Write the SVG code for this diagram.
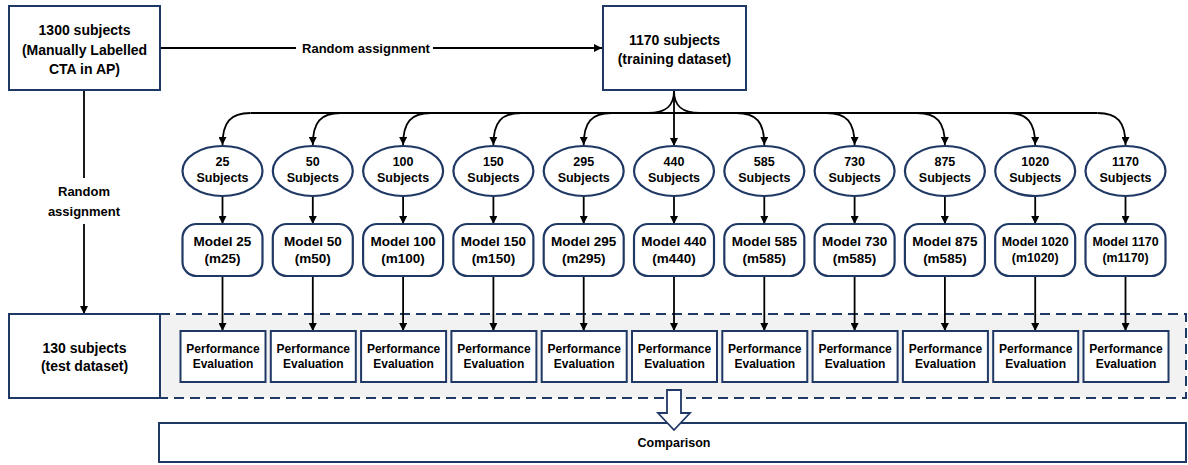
<svg xmlns="http://www.w3.org/2000/svg" width="1188" height="465" viewBox="0 0 1188 465">
<defs>
<marker id="ah" viewBox="0 0 10 10" refX="10" refY="5" markerWidth="8" markerHeight="8" markerUnits="userSpaceOnUse" orient="auto"><path d="M0,0 L10,5 L0,10 z" fill="#000"/></marker>
<style>
text{font-family:"Liberation Sans",Arial,sans-serif;font-weight:bold;fill:#000;text-anchor:middle}
.box{fill:#fff;stroke:#1f3864;stroke-width:2}
.ell{fill:#fff;stroke:#1f3864;stroke-width:2.2}
.c{fill:none;stroke:#000;stroke-width:1.8}
.ca{fill:none;stroke:#000;stroke-width:1.8;marker-end:url(#ah)}
.big{font-size:14px}
.e{font-size:12.5px}
.m{font-size:13.5px}
.ms{font-size:12.4px}
.p{font-size:12px}
</style>
</defs>
<rect x="160" y="314" width="1026" height="84" fill="#f2f2f2" stroke="#1f3864" stroke-width="2" stroke-dasharray="10,6"/>
<g id="connectors">
<path class="c" d="M160,48 H296"/>
<path class="ca" d="M433,48 H602"/>
<path class="c" d="M84,90 V178"/>
<path class="ca" d="M84,224 V314"/>
<path class="c" d="M250.5,113 H1097.5"/>
<path class="c" d="M674,91 C674,106 666,113 648,113"/>
<path class="c" d="M674,91 C674,106 682,113 700,113"/>
<path class="ca" d="M674,91 V146"/>
<path class="ca" d="M250.5,113 C230.5,113 222.5,122 222.5,145"/>
<path class="ca" d="M340.8,113 C320.8,113 312.8,122 312.8,145"/>
<path class="ca" d="M431.1,113 C411.1,113 403.1,122 403.1,145"/>
<path class="ca" d="M521.4,113 C501.4,113 493.4,122 493.4,145"/>
<path class="ca" d="M611.7,113 C591.7,113 583.7,122 583.7,145"/>
<path class="ca" d="M736.3,113 C756.3,113 764.3,122 764.3,145"/>
<path class="ca" d="M826.6,113 C846.6,113 854.6,122 854.6,145"/>
<path class="ca" d="M916.9,113 C936.9,113 944.9,122 944.9,145"/>
<path class="ca" d="M1007.2,113 C1027.2,113 1035.2,122 1035.2,145"/>
<path class="ca" d="M1097.5,113 C1117.5,113 1125.5,122 1125.5,145"/>
<path class="ca" d="M222.5,196 V224"/><path class="ca" d="M312.8,196 V224"/><path class="ca" d="M403.1,196 V224"/><path class="ca" d="M493.4,196 V224"/><path class="ca" d="M583.7,196 V224"/><path class="ca" d="M674,196 V224"/><path class="ca" d="M764.3,196 V224"/><path class="ca" d="M854.6,196 V224"/><path class="ca" d="M944.9,196 V224"/><path class="ca" d="M1035.2,196 V224"/><path class="ca" d="M1125.5,196 V224"/>
<path class="ca" d="M222.5,276 V331"/><path class="ca" d="M312.8,276 V331"/><path class="ca" d="M403.1,276 V331"/><path class="ca" d="M493.4,276 V331"/><path class="ca" d="M583.7,276 V331"/><path class="ca" d="M674,276 V331"/><path class="ca" d="M764.3,276 V331"/><path class="ca" d="M854.6,276 V331"/><path class="ca" d="M944.9,276 V331"/><path class="ca" d="M1035.2,276 V331"/><path class="ca" d="M1125.5,276 V331"/>
<text x="366" y="52.5" style="font-size:13px">Random assignment</text>
<text x="84" y="196" style="font-size:13px">Random</text>
<text x="84" y="216" style="font-size:13px">assignment</text>
</g>
<g id="n-all"><rect class="box" x="9" y="6" width="151" height="84"/><text class="big" x="84.5" y="35">1300 subjects</text><text class="big" x="84.5" y="55">(Manually Labelled</text><text class="big" x="84.5" y="74">CTA in AP)</text></g>
<g id="n-train"><rect class="box" x="603" y="6" width="143" height="84"/><text class="big" x="674.5" y="45">1170 subjects</text><text class="big" x="674.5" y="64">(training dataset)</text></g>
<g id="n-test"><rect class="box" x="9" y="314" width="151" height="84"/><text class="big" x="84.5" y="353">130 subjects</text><text class="big" x="84.5" y="371">(test dataset)</text></g>
<g id="s0"><ellipse class="ell" cx="222.5" cy="171" rx="40" ry="25"/><text class="e" x="222.5" y="166">25</text><text class="e" x="222.5" y="182">Subjects</text></g>
<g id="s1"><ellipse class="ell" cx="312.8" cy="171" rx="40" ry="25"/><text class="e" x="312.8" y="166">50</text><text class="e" x="312.8" y="182">Subjects</text></g>
<g id="s2"><ellipse class="ell" cx="403.1" cy="171" rx="40" ry="25"/><text class="e" x="403.1" y="166">100</text><text class="e" x="403.1" y="182">Subjects</text></g>
<g id="s3"><ellipse class="ell" cx="493.4" cy="171" rx="40" ry="25"/><text class="e" x="493.4" y="166">150</text><text class="e" x="493.4" y="182">Subjects</text></g>
<g id="s4"><ellipse class="ell" cx="583.7" cy="171" rx="40" ry="25"/><text class="e" x="583.7" y="166">295</text><text class="e" x="583.7" y="182">Subjects</text></g>
<g id="s5"><ellipse class="ell" cx="674" cy="171" rx="40" ry="25"/><text class="e" x="674" y="166">440</text><text class="e" x="674" y="182">Subjects</text></g>
<g id="s6"><ellipse class="ell" cx="764.3" cy="171" rx="40" ry="25"/><text class="e" x="764.3" y="166">585</text><text class="e" x="764.3" y="182">Subjects</text></g>
<g id="s7"><ellipse class="ell" cx="854.6" cy="171" rx="40" ry="25"/><text class="e" x="854.6" y="166">730</text><text class="e" x="854.6" y="182">Subjects</text></g>
<g id="s8"><ellipse class="ell" cx="944.9" cy="171" rx="40" ry="25"/><text class="e" x="944.9" y="166">875</text><text class="e" x="944.9" y="182">Subjects</text></g>
<g id="s9"><ellipse class="ell" cx="1035.2" cy="171" rx="40" ry="25"/><text class="e" x="1035.2" y="166">1020</text><text class="e" x="1035.2" y="182">Subjects</text></g>
<g id="s10"><ellipse class="ell" cx="1125.5" cy="171" rx="40" ry="25"/><text class="e" x="1125.5" y="166">1170</text><text class="e" x="1125.5" y="182">Subjects</text></g>
<g id="m0"><rect class="ell" x="182.5" y="224" width="80" height="52" rx="14"/><text class="m" x="222.5" y="246">Model 25</text><text class="m" x="222.5" y="263">(m25)</text></g>
<g id="m1"><rect class="ell" x="272.8" y="224" width="80" height="52" rx="14"/><text class="m" x="312.8" y="246">Model 50</text><text class="m" x="312.8" y="263">(m50)</text></g>
<g id="m2"><rect class="ell" x="363.1" y="224" width="80" height="52" rx="14"/><text class="m" x="403.1" y="246">Model 100</text><text class="m" x="403.1" y="263">(m100)</text></g>
<g id="m3"><rect class="ell" x="453.4" y="224" width="80" height="52" rx="14"/><text class="m" x="493.4" y="246">Model 150</text><text class="m" x="493.4" y="263">(m150)</text></g>
<g id="m4"><rect class="ell" x="543.7" y="224" width="80" height="52" rx="14"/><text class="m" x="583.7" y="246">Model 295</text><text class="m" x="583.7" y="263">(m295)</text></g>
<g id="m5"><rect class="ell" x="634" y="224" width="80" height="52" rx="14"/><text class="m" x="674" y="246">Model 440</text><text class="m" x="674" y="263">(m440)</text></g>
<g id="m6"><rect class="ell" x="724.3" y="224" width="80" height="52" rx="14"/><text class="m" x="764.3" y="246">Model 585</text><text class="m" x="764.3" y="263">(m585)</text></g>
<g id="m7"><rect class="ell" x="814.6" y="224" width="80" height="52" rx="14"/><text class="m" x="854.6" y="246">Model 730</text><text class="m" x="854.6" y="263">(m585)</text></g>
<g id="m8"><rect class="ell" x="904.9" y="224" width="80" height="52" rx="14"/><text class="m" x="944.9" y="246">Model 875</text><text class="m" x="944.9" y="263">(m585)</text></g>
<g id="m9"><rect class="ell" x="995.2" y="224" width="80" height="52" rx="14"/><text class="ms" x="1035.2" y="246">Model 1020</text><text class="ms" x="1035.2" y="262">(m1020)</text></g>
<g id="m10"><rect class="ell" x="1085.5" y="224" width="80" height="52" rx="14"/><text class="ms" x="1125.5" y="246">Model 1170</text><text class="ms" x="1125.5" y="262">(m1170)</text></g>
<g id="p0"><rect class="box" x="180.5" y="331" width="85" height="51"/><text class="p" x="223" y="353">Performance</text><text class="p" x="223" y="368">Evaluation</text></g>
<g id="p1"><rect class="box" x="270.8" y="331" width="85" height="51"/><text class="p" x="313.3" y="353">Performance</text><text class="p" x="313.3" y="368">Evaluation</text></g>
<g id="p2"><rect class="box" x="361.1" y="331" width="85" height="51"/><text class="p" x="403.6" y="353">Performance</text><text class="p" x="403.6" y="368">Evaluation</text></g>
<g id="p3"><rect class="box" x="451.4" y="331" width="85" height="51"/><text class="p" x="493.9" y="353">Performance</text><text class="p" x="493.9" y="368">Evaluation</text></g>
<g id="p4"><rect class="box" x="541.7" y="331" width="85" height="51"/><text class="p" x="584.2" y="353">Performance</text><text class="p" x="584.2" y="368">Evaluation</text></g>
<g id="p5"><rect class="box" x="632" y="331" width="85" height="51"/><text class="p" x="674.5" y="353">Performance</text><text class="p" x="674.5" y="368">Evaluation</text></g>
<g id="p6"><rect class="box" x="722.3" y="331" width="85" height="51"/><text class="p" x="764.8" y="353">Performance</text><text class="p" x="764.8" y="368">Evaluation</text></g>
<g id="p7"><rect class="box" x="812.6" y="331" width="85" height="51"/><text class="p" x="855.1" y="353">Performance</text><text class="p" x="855.1" y="368">Evaluation</text></g>
<g id="p8"><rect class="box" x="902.9" y="331" width="85" height="51"/><text class="p" x="945.4" y="353">Performance</text><text class="p" x="945.4" y="368">Evaluation</text></g>
<g id="p9"><rect class="box" x="993.2" y="331" width="85" height="51"/><text class="p" x="1035.7" y="353">Performance</text><text class="p" x="1035.7" y="368">Evaluation</text></g>
<g id="p10"><rect class="box" x="1083.5" y="331" width="85" height="51"/><text class="p" x="1126" y="353">Performance</text><text class="p" x="1126" y="368">Evaluation</text></g>
<g id="n-comparison"><rect class="box" x="159" y="423" width="1027" height="39"/><text x="674" y="447" style="font-size:12.5px">Comparison</text></g>
<g id="block-arrow"><path d="M667,390 H681 V413 H690 L674,430 L658,413 H667 Z" fill="#fff" stroke="#1f3864" stroke-width="1.8" stroke-linejoin="miter"/></g>
</svg>
